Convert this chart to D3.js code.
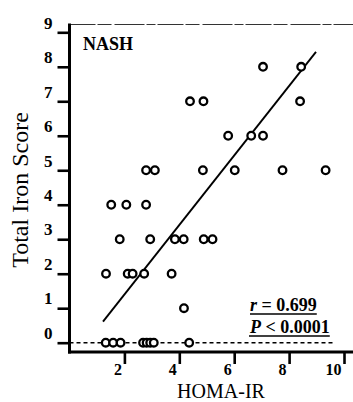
<!DOCTYPE html>
<html><head><meta charset="utf-8">
<script src="https://cdn.jsdelivr.net/npm/d3@7"></script>
<style>
html,body{margin:0;padding:0;background:#fff;}
svg{display:block;}
text{font-family:"Liberation Serif","Times New Roman",serif;fill:#000;}
</style></head>
<body>
<svg id="c" width="353" height="402"></svg>
<script>
// HOMA-IR values grouped by total iron score
const homaIR = [
  1.32,1.59,1.86, 2.68,2.81,2.94,3.07, 4.36,
  4.17,
  1.33,2.12,2.30,2.72,3.72,
  1.83,2.94,3.84,4.16,4.89,5.21,
  1.52,2.07,2.79,
  2.79,3.11,4.86,6.02,7.76,9.33,
  5.78,6.62,7.05,
  4.39,4.88,8.40,
  7.05,8.44
];
const ironScore = [
  0,0,0,0,0,0,0,0,
  1,
  2,2,2,2,2,
  3,3,3,3,3,3,
  4,4,4,
  5,5,5,5,5,5,
  6,6,6,
  7,7,7,
  8,8
];
const xTicks = [2,4,6,8,10];
const yTicks = [0,1,2,3,4,5,6,7,8,9];
const regX = [1.22, 8.98];
const regY = [0.61, 8.43];
const zeroLineX = [0, 9.65];
const panelLabel = "NASH";
const statR = "0.699";
const statP = "0.0001";
const xTitle = "HOMA-IR";
const yTitle = "Total Iron Score";

const svg = d3.select("#c");
const x = d3.scaleLinear().domain([0,10]).range([69.5,344]);
const y = d3.scaleLinear().domain([0,9]).range([342.7,32.3]);
const axisY = 352, topY = 24.5, rightX = 353;

// top border (faint broken line)
svg.append("line").attr("x1",x(0)).attr("x2",rightX).attr("y1",topY).attr("y2",topY)
  .attr("stroke","#333").attr("stroke-width",1).attr("stroke-dasharray","26,2,14,3,30,2,9,2");

// zero dashed line
svg.append("line").attr("x1",x(zeroLineX[0])).attr("x2",x(zeroLineX[1]))
  .attr("y1",y(0)).attr("y2",y(0))
  .attr("stroke","#000").attr("stroke-width",1.6).attr("stroke-dasharray","4,3");

// regression line
svg.append("line").attr("x1",x(regX[0])).attr("y1",y(regY[0]))
  .attr("x2",x(regX[1])).attr("y2",y(regY[1]))
  .attr("stroke","#000").attr("stroke-width",1.9);

// axes
const yAxis = d3.axisLeft(y).tickValues(yTicks).tickSize(12).tickFormat(d3.format("d"));
const gy = svg.append("g").attr("transform",`translate(${x(0)},0)`).call(yAxis);
gy.select(".domain").remove();
gy.selectAll(".tick line").attr("stroke","#000").attr("stroke-width",2.6);
gy.selectAll(".tick text").attr("x",-17).attr("dy","-0.25em")
  .style("font-size","17px").style("font-weight","bold").attr("fill","#000");
svg.append("line").attr("x1",x(0)).attr("x2",x(0)).attr("y1",topY-1).attr("y2",axisY+1.5)
  .attr("stroke","#000").attr("stroke-width",3);

const xAxis = d3.axisBottom(x).tickValues(xTicks).tickSize(12).tickFormat(d3.format("d"));
const gx = svg.append("g").attr("transform",`translate(0,${axisY})`).call(xAxis);
gx.select(".domain").remove();
gx.selectAll(".tick line").attr("stroke","#000").attr("stroke-width",2.6);
gx.selectAll(".tick text").attr("text-anchor","end").attr("x",-3).attr("y",12).attr("dy","0.71em")
  .style("font-size","16px").style("font-weight","bold").attr("fill","#000");
svg.append("line").attr("x1",x(0)-1.5).attr("x2",rightX).attr("y1",axisY).attr("y2",axisY)
  .attr("stroke","#000").attr("stroke-width",3);

// points
svg.append("g").selectAll("circle").data(homaIR).join("circle")
  .attr("cx",d=>x(d)).attr("cy",(d,i)=>y(ironScore[i])).attr("r",3.8)
  .attr("fill","#fff").attr("stroke","#000").attr("stroke-width",2.3);

// panel label
svg.append("text").attr("x",83).attr("y",50).text(panelLabel)
  .style("font-size","18px").style("font-weight","bold");

// stats
function stat(yb, sym, rest){
  const t = svg.append("text").attr("x",250).attr("y",yb)
    .style("font-size","18px").style("font-weight","bold");
  t.append("tspan").style("font-style","italic").text(sym);
  t.append("tspan").text(rest);
  const bb = t.node().getBBox();
  svg.append("line").attr("x1",bb.x).attr("x2",bb.x+bb.width).attr("y1",yb+3).attr("y2",yb+3)
    .attr("stroke","#000").attr("stroke-width",1.6);
}
stat(311,"r"," = "+statR);
stat(333,"P"," < "+statP);

// axis titles
svg.append("text").attr("x",221).attr("y",398).attr("text-anchor","middle")
  .style("font-size","20px").text(xTitle);
svg.append("text").attr("transform","translate(28,190) rotate(-90)").attr("text-anchor","middle")
  .style("font-size","24px").text(yTitle);
</script>
</body></html>
